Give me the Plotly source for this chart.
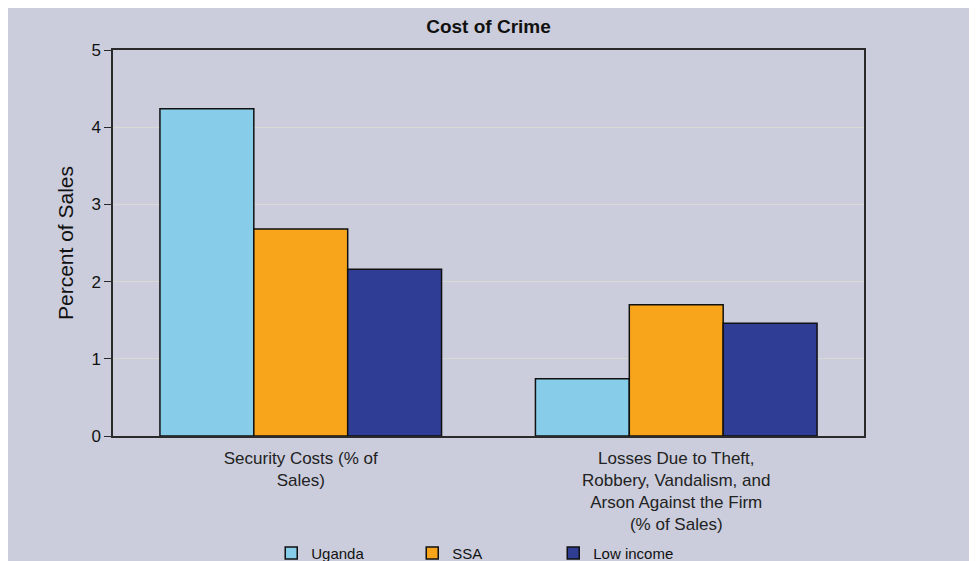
import plotly.graph_objects as go

categories = [
    "Security Costs (% of<br>Sales)",
    "Losses Due to Theft,<br>Robbery, Vandalism, and<br>Arson Against the Firm<br>(% of Sales)",
]
series_names = ["Uganda", "SSA", "Low income"]
uganda = [4.24, 0.74]
ssa = [2.68, 1.70]
low_income = [2.16, 1.46]
y_ticks = [0, 1, 2, 3, 4, 5]

colors = ["#87CDEA", "#F9A51B", "#2F3D94"]
BG = "#CBCDDC"
sans = "Liberation Sans, Arial, sans-serif"

fig = go.Figure()
for name, vals, col in zip(series_names, [uganda, ssa, low_income], colors):
    fig.add_trace(go.Bar(
        name=name, x=categories, y=vals,
        marker=dict(color=col, line=dict(color="#111111", width=1.5)),
    ))

fig.update_layout(
    width=961, height=553,
    autosize=False,
    margin=dict(l=105, r=105, t=42, b=125, autoexpand=False),
    paper_bgcolor=BG,
    plot_bgcolor=BG,
    barmode="group",
    bargap=0.25,
    bargroupgap=0,
    title=dict(text="<b>Cost of Crime</b>", x=0.5, xanchor="center", y=0.967, yanchor="middle",
               font=dict(family=sans, size=19, color="#111111")),
    legend=dict(orientation="h", x=0.494, xanchor="center", xref="container",
                y=0.014, yanchor="middle", yref="container",
                bgcolor="rgba(0,0,0,0)", font=dict(family=sans, size=15, color="#111111"),
                entrywidth=96, traceorder="normal"),
    showlegend=True,
)
fig.update_xaxes(
    showline=True, linecolor="#2A2A2A", linewidth=1.5, mirror=True,
    ticks="", tickfont=dict(family=sans, size=17, color="#222222"),
    ticklabelstandoff=6,
    showgrid=False, automargin=False,
)
fig.update_yaxes(
    range=[0, 5], tickvals=y_ticks, showline=True, linecolor="#2A2A2A", linewidth=1.5, mirror=True,
    ticks="outside", ticklen=7, tickcolor="#2A2A2A",
    tickfont=dict(family=sans, size=17, color="#111111"),
    showgrid=True, gridcolor="#DADAD4", gridwidth=1,
    title=dict(text="Percent of Sales", font=dict(family=sans, size=21, color="#111111"), standoff=12),
    zeroline=False, automargin=False,
)

fig.write_html("out.html")
